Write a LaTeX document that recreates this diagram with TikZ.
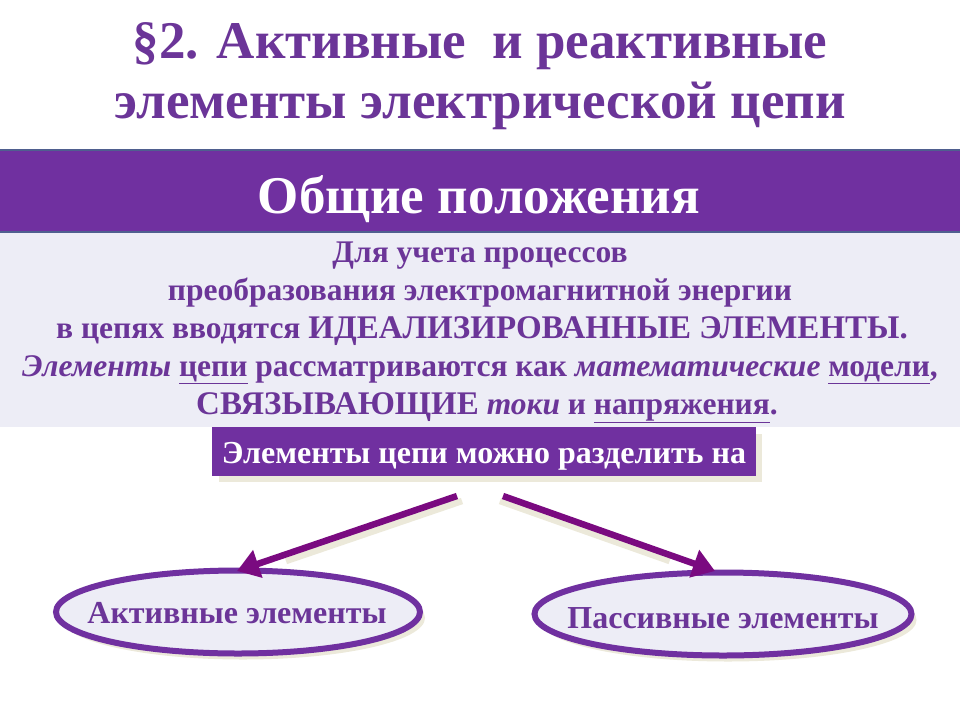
\documentclass[tikz,border=0pt]{standalone}
\usepackage{fontspec}
\setmainfont{Liberation Serif}
\usetikzlibrary{shapes.geometric,shadows,arrows.meta,calc}
\definecolor{tpurple}{HTML}{6B3598}
\definecolor{bandpurple}{HTML}{7030A0}
\definecolor{bandedge}{HTML}{4F5F8F}
\definecolor{lightbg}{HTML}{EDEDF6}
\definecolor{arrowpurple}{HTML}{7A0A80}
\definecolor{shadowc}{HTML}{ECE9DA}
\tikzset{
  titletext/.style={text=tpurple,font=\bfseries\fontsize{53}{58}\selectfont,anchor=base,inner sep=0pt},
  bodytext/.style={text=tpurple,font=\bfseries\fontsize{31.5}{38}\selectfont,anchor=base,inner sep=0pt},
  purplebox/.style={fill=bandpurple,text=white,inner sep=0pt},
  ovalbox/.style={ellipse,draw=bandpurple,line width=6pt,fill=lightbg,inner sep=0pt,
     drop shadow={shadow xshift=5pt,shadow yshift=-6pt,fill=shadowc,opacity=1}},
  ovaltext/.style={text=tpurple,font=\bfseries\fontsize{32}{36}\selectfont,anchor=base,inner sep=0pt},
  bigarrow/.style={draw=arrowpurple,line width=6.5pt,-{Triangle[length=22pt,width=28pt]}},
  arrowshadow/.style={draw=shadowc,line width=6.5pt}
}
\begin{document}
\begin{tikzpicture}[x=1pt,y=-1pt]
\useasboundingbox (0,0) rectangle (960,720);
\fill[white] (0,0) rectangle (960,720);
% title
\node[titletext] (t1) at (480,58) {§2. Активные\ \ и реактивные};
\node[titletext] (t2) at (480,118) {элементы электрической цепи};
% band
\fill[bandpurple,draw=bandedge,line width=1.5pt] (-2,150) rectangle (962,232);
\node[text=white,font=\bfseries\fontsize{53}{58}\selectfont,anchor=base,inner sep=0pt] (head) at (479,213) {Общие положения};
% light area
\fill[lightbg] (0,233) rectangle (960,427);
\node[bodytext] (b1) at (480,262) {Для учета процессов};
\node[bodytext] (b2) at (480,300) {преобразования электромагнитной энергии};
\node[bodytext] (b3) at (482,338) {в цепях вводятся {\fontsize{33}{38}\selectfont ИДЕАЛИЗИРОВАННЫЕ ЭЛЕМЕНТЫ.}};
\node[bodytext] (b4) at (480,376) {\textit{Элементы} \underline{цепи} рассматриваются как \textit{математические} \underline{модели},};
\node[bodytext] (b5) at (487,414) {{\fontsize{33}{38}\selectfont СВЯЗЫВАЮЩИЕ} \textit{токи} и \underline{напряжения}.};
% division box
\fill[shadowc] (219,434) rectangle (762,482);
\node[purplebox,minimum width=544pt,minimum height=49pt] (div) at (484,451.5) {};
\node[text=white,font=\bfseries\fontsize{32}{36}\selectfont,anchor=base,inner sep=0pt] (divtext) at (484,463) {Элементы цепи можно разделить на};
% ovals
\node[ovalbox,minimum width=364pt,minimum height=83pt] (act) at (238,612) {};
\node[ovaltext] (acttext) at (237,623) {Активные элементы};
\node[ovalbox,minimum width=377pt,minimum height=83pt] (pas) at (723,614) {};
\node[ovaltext] (pastext) at (723,628) {Пассивные элементы};
% arrows
\coordinate (la) at (457,496);
\coordinate (ra) at (503,496);
\coordinate (lt) at (237,571);
\coordinate (rt) at (715,571);
\draw[arrowshadow] ($(la)+(5,5)$) -- ($($(la)!0.8!(lt)$)+(5,5)$);
\draw[bigarrow] (la) -- (lt);
\draw[arrowshadow] ($(ra)+(-3,5)$) -- ($($(ra)!0.8!(rt)$)+(-3,5)$);
\draw[bigarrow] (ra) -- (rt);
\end{tikzpicture}
\end{document}
